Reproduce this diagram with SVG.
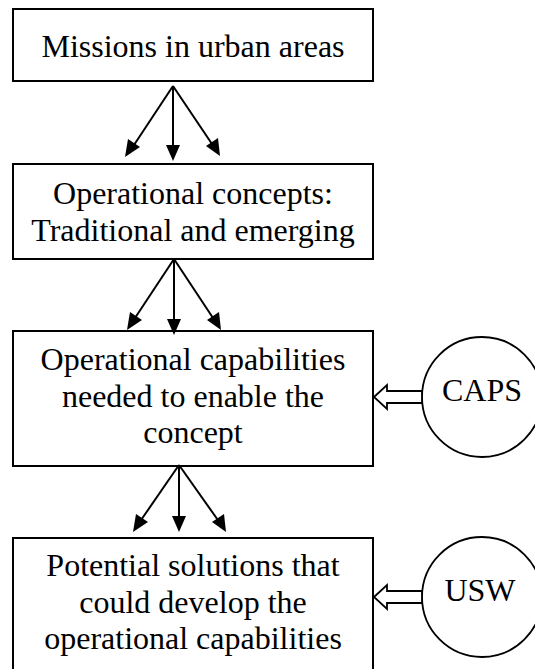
<svg xmlns="http://www.w3.org/2000/svg" width="535" height="669" viewBox="0 0 535 669">
<style>
.box{fill:#fff;stroke:#000;stroke-width:2}
.circ{fill:#fff;stroke:#000;stroke-width:1.8}
.t{font-family:'Liberation Serif',serif;font-size:32px;fill:#000;text-anchor:middle}
.ln{stroke:#000;stroke-width:2;fill:none}
.hd{fill:#000;stroke:none}
.dbl{fill:#fff;stroke:#000;stroke-width:1.8;stroke-linejoin:miter}
</style>
<rect width="535" height="669" fill="#fff"/>
<g id="missions">
<rect class="box" x="13" y="9" width="360" height="72"/>
<text class="t" x="193" y="57">Missions in urban areas</text>
</g>
<g id="concepts">
<rect class="box" x="13" y="164" width="360" height="95"/>
<text class="t" x="193" y="204">Operational concepts:</text>
<text class="t" x="193" y="241">Traditional and emerging</text>
</g>
<g id="capabilities">
<rect class="box" x="13" y="331" width="360" height="135"/>
<text class="t" x="193" y="370">Operational capabilities</text>
<text class="t" x="193" y="407">needed to enable the</text>
<text class="t" x="193" y="443">concept</text>
</g>
<g id="solutions">
<rect class="box" x="13" y="538" width="360" height="140"/>
<text class="t" x="193" y="576">Potential solutions that</text>
<text class="t" x="193" y="613">could develop the</text>
<text class="t" x="193" y="649">operational capabilities</text>
</g>
<g id="caps">
<circle class="circ" cx="482" cy="397" r="60"/>
<text class="t" x="482" y="401">CAPS</text>
</g>
<g id="usw">
<circle class="circ" cx="482" cy="597" r="60"/>
<text class="t" x="480" y="601">USW</text>
</g>
<g id="connectors">
<line class="ln" x1="173" y1="86" x2="132" y2="148"/>
<polygon class="hd" points="125,157 128,139 140,147"/>
<line class="ln" x1="173" y1="86" x2="173" y2="146"/>
<polygon class="hd" points="173,161 166,145 180,145"/>
<line class="ln" x1="173" y1="86" x2="214" y2="147"/>
<polygon class="hd" points="220,156 206,146 218,138"/>
<line class="ln" x1="174" y1="259" x2="133" y2="321"/>
<polygon class="hd" points="127,330 130,312 142,320"/>
<line class="ln" x1="174" y1="259" x2="174" y2="320"/>
<polygon class="hd" points="174,335 167,319 181,319"/>
<line class="ln" x1="174" y1="259" x2="215" y2="321"/>
<polygon class="hd" points="221,330 207,320 219,312"/>
<line class="ln" x1="179" y1="465" x2="139" y2="523"/>
<polygon class="hd" points="133,532 136,514 148,522"/>
<line class="ln" x1="179" y1="465" x2="179" y2="518"/>
<polygon class="hd" points="179,532 172,516 186,516"/>
<line class="ln" x1="179" y1="465" x2="220" y2="523"/>
<polygon class="hd" points="226,532 212,522 224,514"/>
<path class="dbl" d="M374,397 L387,385 L387,391 L422,391 L422,403 L387,403 L387,409 Z"/>
<path class="dbl" d="M374,597 L387,585 L387,591 L422,591 L422,603 L387,603 L387,609 Z"/>
</g>
</svg>
